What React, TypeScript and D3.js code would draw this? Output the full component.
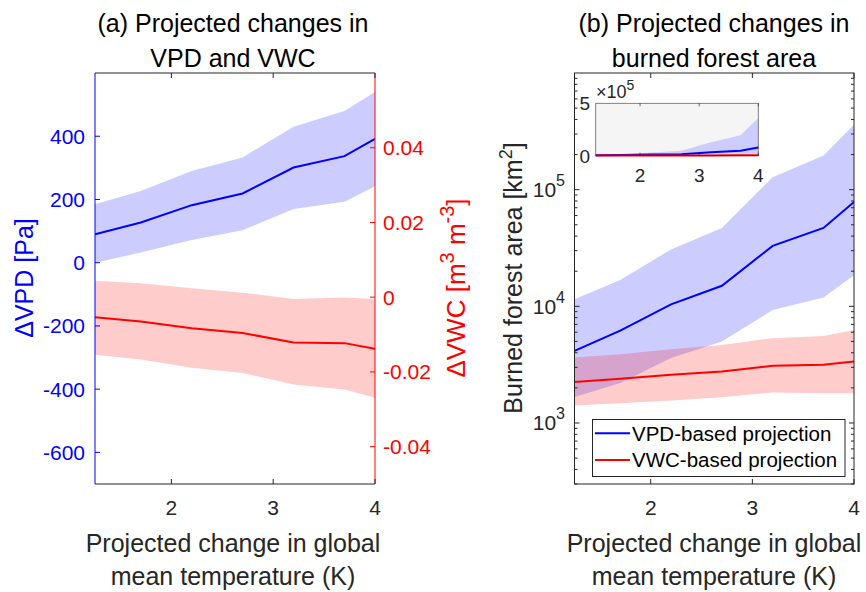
import React from "react";
import * as d3 from "d3";

const temps = [1.25, 1.7, 2.2, 2.7, 3.2, 3.7, 4.0];
const vpdMean = [90, 127, 182, 219, 301, 337, 392];
const vpdLow = [0, 32, 72, 103, 170, 193, 242];
const vpdHigh = [185, 227, 290, 333, 430, 480, 540];
const vwcMean = [-0.0054, -0.0065, -0.0083, -0.0096, -0.0121, -0.0123, -0.0138];
const vwcLow = [-0.0154, -0.0167, -0.0189, -0.0203, -0.0234, -0.0247, -0.0269];
const vwcHigh = [0.0044, 0.0037, 0.0024, 0.0012, -0.0005, -0.0001, -0.0005];
const bfaVpdMean = [4150, 6190, 10400, 15000, 33000, 47000, 78300];
const bfaVpdLow = [1670, 2200, 3600, 4990, 9290, 11900, 18500];
const bfaVpdHigh = [11500, 16800, 30700, 47000, 128000, 196000, 360000];
const bfaVwcMean = [2250, 2390, 2590, 2760, 3090, 3150, 3360];
const bfaVwcLow = [1410, 1480, 1560, 1660, 1830, 1800, 1800];
const bfaVwcHigh = [3640, 3890, 4290, 4670, 5330, 5570, 6270];

const xTicks = [2, 3, 4];
const vpdTicks = [-600, -400, -200, 0, 200, 400];
const vwcTicks = [-0.04, -0.02, 0, 0.02, 0.04];
const logMajor = [1e3, 1e4, 1e5];
const insetYTicks = [0, 5];

const FONT = "'Liberation Sans', Arial, Helvetica, sans-serif";
const AX = "#262626";
const BLUE = "#0000ff";
const RED = "#ff0000";
const BFILL = "rgb(204,204,255)";
const RFILL = "rgba(255,0,0,0.2)";

function band(x: any, y: any, lo: number[], hi: number[]) {
  return d3
    .area<number>()
    .x((_, i) => x(temps[i]))
    .y0((_, i) => y(lo[i]))
    .y1((_, i) => y(hi[i]))(temps) as string;
}
function line(x: any, y: any, v: number[]) {
  return d3
    .line<number>()
    .x((_, i) => x(temps[i]))
    .y((_, i) => y(v[i]))(temps) as string;
}

export default function App() {
  // Panel a
  const L = { x0: 95, x1: 375, y0: 73, y1: 484 };
  const xL = d3.scaleLinear().domain([1.25, 4]).range([L.x0, L.x1]);
  const yVpd = d3.scaleLinear().domain([-700, 600]).range([L.y1, L.y0]);
  const yVwc = d3.scaleLinear().domain([-0.05, 0.06]).range([L.y1, L.y0]);

  // Panel b
  const R = { x0: 574.5, x1: 854, y0: 73, y1: 484 };
  const xR = d3.scaleLinear().domain([1.25, 4]).range([R.x0, R.x1]);
  const yLog = d3.scaleLog().domain([300, 1e6]).range([R.y1, R.y0]);

  // Inset
  const I = { x0: 595.7, x1: 758.3, y0: 103.3, y1: 155.7 };
  const xI = d3.scaleLinear().domain([1.25, 4]).range([I.x0, I.x1]);
  const yI = d3.scaleLinear().domain([0, 5e5]).range([I.y1, I.y0]);

  const minor: number[] = [];
  for (let e = 2; e <= 5; e++) {
    for (let k = 2; k <= 9; k++) {
      const v = k * Math.pow(10, e);
      if (v >= 300 && v <= 1e6) minor.push(v);
    }
  }

  const vwcFmt = (v: number) => (v === 0 ? "0" : d3.format(".2f")(v).replace("−", "-"));

  return (
    <svg
      width={866}
      height={592}
      style={{ position: "absolute", left: 0, top: 0, background: "#fff" }}
      fontFamily={FONT}
    >
      <defs>
        <clipPath id="clipL">
          <rect x={L.x0} y={L.y0} width={L.x1 - L.x0} height={L.y1 - L.y0} />
        </clipPath>
        <clipPath id="clipR">
          <rect x={R.x0} y={R.y0} width={R.x1 - R.x0} height={R.y1 - R.y0} />
        </clipPath>
        <clipPath id="clipI">
          <rect x={I.x0} y={I.y0} width={I.x1 - I.x0} height={I.y1 - I.y0} />
        </clipPath>
      </defs>
      <rect x={0} y={0} width={866} height={592} fill="#fff" />

      {/* ===== Panel a ===== */}
      <text x={233} y={31.5} fontSize={25} textAnchor="middle" fill="#000">
        (a) Projected changes in
      </text>
      <text x={233} y={66.5} fontSize={25} textAnchor="middle" fill="#000">
        VPD and VWC
      </text>
      <g clipPath="url(#clipL)">
        <path d={band(xL, yVpd, vpdLow, vpdHigh)} fill={BFILL} />
        <path d={band(xL, yVwc, vwcLow, vwcHigh)} fill={RFILL} />
        <path d={line(xL, yVpd, vpdMean)} fill="none" stroke={BLUE} strokeWidth={2} />
        <path d={line(xL, yVwc, vwcMean)} fill="none" stroke={RED} strokeWidth={2} />
      </g>
      {/* box */}
      <line x1={L.x0} x2={L.x1} y1={L.y0} y2={L.y0} stroke={AX} strokeWidth={1} />
      <line x1={L.x0} x2={L.x1} y1={L.y1} y2={L.y1} stroke={AX} strokeWidth={1} />
      <line x1={L.x0} x2={L.x0} y1={L.y0} y2={L.y1} stroke={BLUE} strokeWidth={1} />
      <line x1={L.x1} x2={L.x1} y1={L.y0} y2={L.y1} stroke={RED} strokeWidth={1} />
      {xTicks.map((t) => (
        <g key={"xl" + t}>
          <line x1={xL(t)} x2={xL(t)} y1={L.y1} y2={L.y1 - 5} stroke={AX} />
          <line x1={xL(t)} x2={xL(t)} y1={L.y0} y2={L.y0 + 5} stroke={AX} />
          <text x={xL(t)} y={515} fontSize={21} textAnchor="middle" fill="#262626">
            {t}
          </text>
        </g>
      ))}
      {vpdTicks.map((t) => (
        <g key={"vp" + t}>
          <line x1={L.x0} x2={L.x0 + 5} y1={yVpd(t)} y2={yVpd(t)} stroke={BLUE} />
          <text x={85} y={yVpd(t) + 7.5} fontSize={21} textAnchor="end" fill={BLUE}>
            {t}
          </text>
        </g>
      ))}
      {vwcTicks.map((t) => (
        <g key={"vw" + t}>
          <line x1={L.x1} x2={L.x1 - 5} y1={yVwc(t)} y2={yVwc(t)} stroke={RED} />
          <text x={383} y={yVwc(t) + 7.5} fontSize={21} textAnchor="start" fill={RED}>
            {vwcFmt(t)}
          </text>
        </g>
      ))}
      <text transform="translate(33,278) rotate(-90)" fontSize={25} textAnchor="middle" fill={BLUE}>
        ΔVPD [Pa]
      </text>
      <text transform="translate(465,288) rotate(-90)" fontSize={26} textAnchor="middle" fill={RED}>
        ΔVWC [m
        <tspan dy={-11} fontSize={20}>3</tspan>
        <tspan dy={11}> m</tspan>
        <tspan dy={-11} fontSize={20}>-3</tspan>
        <tspan dy={11}>]</tspan>
      </text>
      <text x={233} y={551.5} fontSize={25} textAnchor="middle" fill="#262626">
        Projected change in global
      </text>
      <text x={233} y={584.5} fontSize={25} textAnchor="middle" fill="#262626">
        mean temperature (K)
      </text>

      {/* ===== Panel b ===== */}
      <text x={714} y={31.5} fontSize={25} textAnchor="middle" fill="#000">
        (b) Projected changes in
      </text>
      <text x={714} y={66.5} fontSize={25} textAnchor="middle" fill="#000">
        burned forest area
      </text>
      <g clipPath="url(#clipR)">
        <path d={band(xR, yLog, bfaVpdLow, bfaVpdHigh)} fill={BFILL} />
        <path d={band(xR, yLog, bfaVwcLow, bfaVwcHigh)} fill={RFILL} />
        <path d={line(xR, yLog, bfaVpdMean)} fill="none" stroke={BLUE} strokeWidth={2} />
        <path d={line(xR, yLog, bfaVwcMean)} fill="none" stroke={RED} strokeWidth={2} />
      </g>
      <rect x={R.x0} y={R.y0} width={R.x1 - R.x0} height={R.y1 - R.y0} fill="none" stroke={AX} strokeWidth={1} />
      {xTicks.map((t) => (
        <g key={"xr" + t}>
          <line x1={xR(t)} x2={xR(t)} y1={R.y1} y2={R.y1 - 5} stroke={AX} />
          <line x1={xR(t)} x2={xR(t)} y1={R.y0} y2={R.y0 + 5} stroke={AX} />
          <text x={xR(t)} y={515} fontSize={21} textAnchor="middle" fill="#262626">
            {t}
          </text>
        </g>
      ))}
      {minor.map((v) => (
        <g key={"mn" + v}>
          <line x1={R.x0} x2={R.x0 + 3} y1={yLog(v)} y2={yLog(v)} stroke={AX} />
          <line x1={R.x1} x2={R.x1 - 3} y1={yLog(v)} y2={yLog(v)} stroke={AX} />
        </g>
      ))}
      {logMajor.map((v) => (
        <g key={"mj" + v}>
          <line x1={R.x0} x2={R.x0 + 5} y1={yLog(v)} y2={yLog(v)} stroke={AX} />
          <line x1={R.x1} x2={R.x1 - 5} y1={yLog(v)} y2={yLog(v)} stroke={AX} />
          <text x={565} y={yLog(v) + 7.5} fontSize={21} textAnchor="end" fill="#262626">
            10
            <tspan dy={-11} fontSize={16}>
              {Math.round(Math.log10(v))}
            </tspan>
          </text>
        </g>
      ))}
      <text transform="translate(522,278) rotate(-90)" fontSize={25} textAnchor="middle" fill="#262626">
        Burned forest area [km
        <tspan dy={-10} fontSize={18}>2</tspan>
        <tspan dy={10}>]</tspan>
      </text>
      <text x={714} y={551.5} fontSize={25} textAnchor="middle" fill="#262626">
        Projected change in global
      </text>
      <text x={714} y={584.5} fontSize={25} textAnchor="middle" fill="#262626">
        mean temperature (K)
      </text>

      {/* legend */}
      <rect x={592.5} y={419.5} width={252.5} height={57} fill="#fff" stroke={AX} strokeWidth={1} />
      <line x1={595} x2={630} y1={433.3} y2={433.3} stroke={BLUE} strokeWidth={2} />
      <line x1={595} x2={630} y1={460} y2={460} stroke={RED} strokeWidth={2} />
      <text x={632} y={440.5} fontSize={20.5} fill="#000">
        VPD-based projection
      </text>
      <text x={632} y={467} fontSize={20.5} fill="#000">
        VWC-based projection
      </text>

      {/* inset */}
      <rect x={I.x0} y={I.y0} width={I.x1 - I.x0} height={I.y1 - I.y0} fill="#f5f5f5" />
      <g clipPath="url(#clipI)">
        <path d={band(xI, yI, bfaVpdLow, bfaVpdHigh)} fill={BFILL} />
        <path d={band(xI, yI, bfaVwcLow, bfaVwcHigh)} fill={RFILL} />
      </g>
      <path d={line(xI, yI, bfaVpdMean)} fill="none" stroke={BLUE} strokeWidth={2} />
      <path d={line(xI, yI, bfaVwcMean)} fill="none" stroke={RED} strokeWidth={2} />
      <rect x={I.x0} y={I.y0} width={I.x1 - I.x0} height={I.y1 - I.y0} fill="none" stroke={AX} strokeWidth={0.8} strokeOpacity={0.7} />
      {xTicks.map((t) => (
        <g key={"xi" + t}>
          <line x1={xI(t)} x2={xI(t)} y1={I.y1} y2={I.y1 - 3} stroke={AX} strokeOpacity={0.7} />
          <line x1={xI(t)} x2={xI(t)} y1={I.y0} y2={I.y0 + 3} stroke={AX} strokeOpacity={0.7} />
          <text x={xI(t)} y={182} fontSize={19} textAnchor="middle" fill="#262626">
            {t}
          </text>
        </g>
      ))}
      {insetYTicks.map((t) => (
        <text key={"yi" + t} x={590} y={yI(t * 1e5) + 7} fontSize={19} textAnchor="end" fill="#262626">
          {t}
        </text>
      ))}
      <text x={596} y={98} fontSize={18} fill="#262626">
        ×10
        <tspan dy={-8} fontSize={14}>5</tspan>
      </text>
    </svg>
  );
}
